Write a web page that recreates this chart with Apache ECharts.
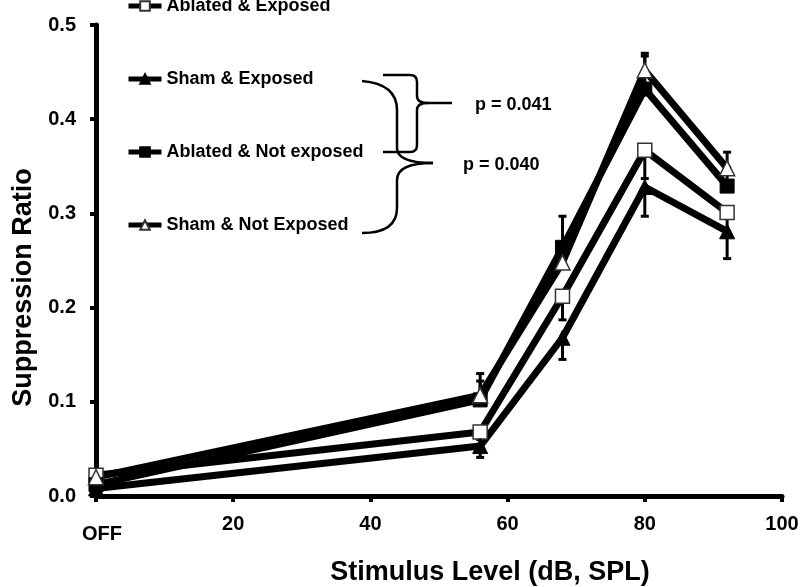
<!DOCTYPE html>
<html>
<head>
<meta charset="utf-8">
<script src="https://cdn.jsdelivr.net/npm/echarts@6/dist/echarts.min.js"></script>
<style>
  html, body { margin: 0; padding: 0; background: #fff; }
  #chart { width: 800px; height: 587px; }
</style>
</head>
<body>
<div id="chart"></div>
<script>
// ---- data ----
var stimulusLevels = [0, 56, 68, 80, 92];           // 0 = OFF
var xTickLabels = { 0: 'OFF' };

var seriesNames = ['Ablated & Exposed', 'Sham & Exposed', 'Ablated & Not exposed', 'Sham & Not Exposed'];

var ablatedExposed     = [0.022, 0.068, 0.212, 0.367, 0.301];
var shamExposed        = [0.008, 0.053, 0.168, 0.328, 0.281];
var ablatedNotExposed  = [0.012, 0.102, 0.264, 0.432, 0.329];
var shamNotExposed     = [0.020, 0.107, 0.248, 0.452, 0.348];

// error bars (one-sided as drawn in the reference)
var ablatedExposedErr    = [0.004, 0.008, 0.025, 0.030, 0.020]; // down
var shamExposedErr       = [0.004, 0.012, 0.023, 0.031, 0.029]; // down
var ablatedNotExposedErr = [0.004, 0.020, 0.033, 0.035, 0.020]; // up
var shamNotExposedErr    = [0.004, 0.023, 0.019, 0.018, 0.017]; // up

var pLabels = ['p = 0.041', 'p = 0.040'];

// ---- chart ----
var FONT = '"Liberation Sans", Arial, sans-serif';
var chart = echarts.init(document.getElementById('chart'), null, { renderer: 'canvas' });

function pairs(ys) { return stimulusLevels.map(function (x, i) { return [x, ys[i]]; }); }
function errData(ys, errs, dir) {
  return stimulusLevels.map(function (x, i) { return [x, ys[i], ys[i] + dir * errs[i]]; });
}

var openStyle = { color: '#fff', borderColor: '#333', borderWidth: 1.5 };
var filledStyle = { color: '#000', borderColor: '#000', borderWidth: 1 };

function lineSeries(name, ys, symbol, style) {
  return {
    name: name, type: 'line', data: pairs(ys),
    symbol: symbol, symbolSize: symbol === 'triangle' ? 15 : 14,
    showAllSymbol: true,
    lineStyle: { color: '#000', width: 7 },
    itemStyle: style,
    emphasis: { disabled: true },
    z: 3
  };
}

function errorSeries(ys, errs, dir) {
  return {
    type: 'custom', data: errData(ys, errs, dir), z: 2, silent: true,
    renderItem: function (params, api) {
      var p0 = api.coord([api.value(0), api.value(1)]);
      var p1 = api.coord([api.value(0), api.value(2)]);
      return {
        type: 'group',
        children: [
          { type: 'line', shape: { x1: p0[0], y1: p0[1], x2: p1[0], y2: p1[1] },
            style: { stroke: '#000', lineWidth: 3 } },
          { type: 'line', shape: { x1: p1[0] - 4, y1: p1[1], x2: p1[0] + 4, y2: p1[1] },
            style: { stroke: '#000', lineWidth: 3 } }
        ]
      };
    }
  };
}

function legendAt(name, top) {
  return {
    data: [name], left: 126, top: top, padding: 0, orient: 'vertical',
    itemWidth: 33, itemHeight: 12, selectedMode: false,
    lineStyle: { width: 5 },
    textStyle: { fontSize: 18, fontWeight: 'bold', color: '#000', fontFamily: FONT }
  };
}

// brace drawing helpers (annotation, fixed pixel placement)
var braceStyle = { stroke: '#000', lineWidth: 2.5, fill: null };
function seg(x1, y1, x2, y2) {
  return { type: 'line', shape: { x1: x1, y1: y1, x2: x2, y2: y2 }, style: braceStyle, z: 10, silent: true };
}
function curve(x1, y1, cx, cy, x2, y2) {
  return { type: 'bezierCurve', shape: { x1: x1, y1: y1, cpx1: cx, cpy1: cy, x2: x2, y2: y2 }, style: braceStyle, z: 10, silent: true };
}
var braceElements = [
  // brace for p = 0.041
  seg(383, 75, 410, 75), curve(410, 75, 417, 75, 417, 82), seg(417, 82, 417, 96),
  curve(417, 96, 417, 103, 428, 103), seg(428, 103, 452, 103), curve(417, 110, 417, 103, 428, 103),
  seg(417, 110, 417, 145), curve(417, 145, 417, 152, 410, 152), seg(410, 152, 383, 152),
  // brace for p = 0.040
  curve(362, 81, 397, 84, 397, 110), seg(397, 110, 397, 148), curve(397, 148, 397, 163, 433, 163),
  curve(433, 163, 397, 163, 397, 180), seg(397, 180, 397, 208), curve(397, 208, 397, 233, 362, 233)
];

var option = {
  backgroundColor: '#fff',
  animation: false,
  textStyle: { fontFamily: FONT },
  grid: { left: 96, right: 18, top: 25, bottom: 91, containLabel: false, outerBoundsMode: 'none' },
  legend: [
    legendAt(seriesNames[0], -3),
    legendAt(seriesNames[1], 70),
    legendAt(seriesNames[2], 143),
    legendAt(seriesNames[3], 216)
  ],
  xAxis: {
    type: 'value', min: 0, max: 100, interval: 20,
    name: 'Stimulus Level (dB, SPL)', nameLocation: 'middle', nameGap: 63,
    nameTextStyle: { fontSize: 27, fontWeight: 'bold', color: '#000', fontFamily: FONT, padding: [0, 0, 0, 102] },
    axisLine: { lineStyle: { color: '#000', width: 5 } },
    axisTick: { show: true, length: 6, lineStyle: { color: '#000', width: 4 } },
    splitLine: { show: false },
    axisLabel: {
      margin: 18, fontSize: 20, fontWeight: 'bold', color: '#000', fontFamily: FONT,
      formatter: function (v) { return xTickLabels[v] ? '{off|' + xTickLabels[v] + '}' : String(v); },
      rich: { off: { fontSize: 20, fontWeight: 'bold', color: '#000', fontFamily: FONT, padding: [10, 0, 0, 12] } }
    }
  },
  yAxis: {
    type: 'value', min: 0, max: 0.5, interval: 0.1,
    name: 'Suppression Ratio', nameLocation: 'middle', nameGap: 57,
    nameTextStyle: { fontSize: 27, fontWeight: 'bold', color: '#000', fontFamily: FONT, padding: [0, 54, 0, 0] },
    axisLine: { show: true, lineStyle: { color: '#000', width: 5 } },
    axisTick: { show: true, length: 6, lineStyle: { color: '#000', width: 4 } },
    splitLine: { show: false },
    axisLabel: {
      margin: 20, fontSize: 20, fontWeight: 'bold', color: '#000', fontFamily: FONT,
      formatter: function (v) { return v.toFixed(1); }
    }
  },
  series: [
    errorSeries(ablatedExposed, ablatedExposedErr, -1),
    errorSeries(shamExposed, shamExposedErr, -1),
    errorSeries(ablatedNotExposed, ablatedNotExposedErr, 1),
    errorSeries(shamNotExposed, shamNotExposedErr, 1),
    lineSeries(seriesNames[0], ablatedExposed, 'rect', openStyle),
    lineSeries(seriesNames[1], shamExposed, 'triangle', filledStyle),
    lineSeries(seriesNames[2], ablatedNotExposed, 'rect', filledStyle),
    lineSeries(seriesNames[3], shamNotExposed, 'triangle', openStyle)
  ],
  graphic: braceElements.concat([
    { type: 'text', left: 475, top: 96, style: { text: pLabels[0], font: 'bold 18px ' + FONT, fill: '#000' }, z: 10 },
    { type: 'text', left: 463, top: 156, style: { text: pLabels[1], font: 'bold 18px ' + FONT, fill: '#000' }, z: 10 }
  ])
};
chart.setOption(option);
</script>
</body>
</html>
